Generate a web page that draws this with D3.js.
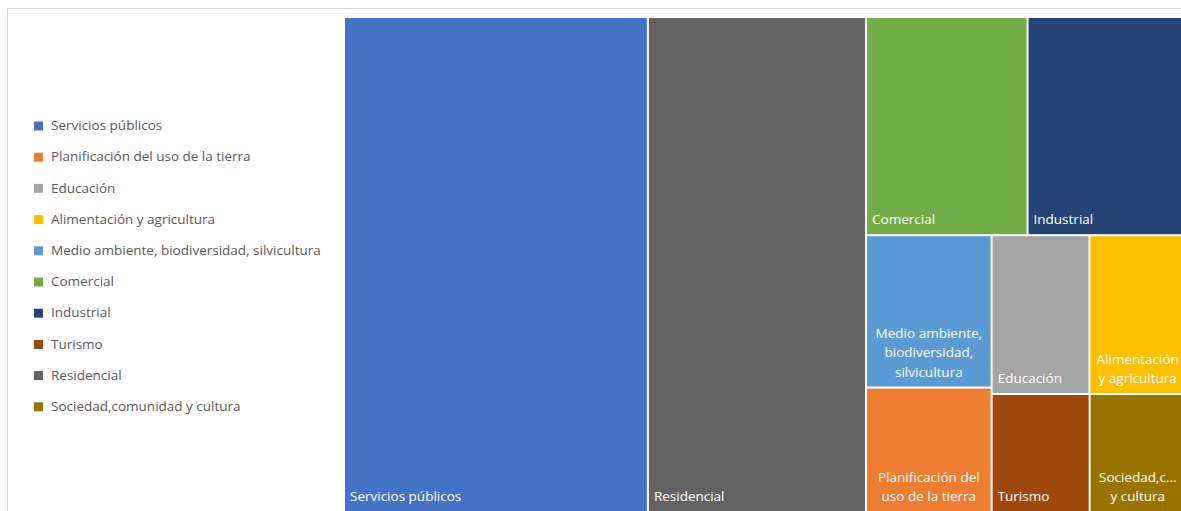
<!DOCTYPE html>
<html>
<head>
<meta charset="utf-8">
<script src="https://cdn.jsdelivr.net/npm/d3@7"></script>
<style>
  body { margin: 0; background: #fff; }
  svg { display: block; font-family: 'Open Sans', sans-serif; }
</style>
</head>
<body>
<div id="treemap-container"></div>
<script>
const categories = [
  'Servicios públicos',
  'Planificación del uso de la tierra',
  'Educación',
  'Alimentación y agricultura',
  'Medio ambiente, biodiversidad, silvicultura',
  'Comercial',
  'Industrial',
  'Turismo',
  'Residencial',
  'Sociedad,comunidad y cultura'
]
const values = [79.4, 8.25, 8.2, 8.1, 10.1, 18.6, 18.25, 6.1, 57.0, 6.0]
const colors = ['#4472C4', '#ED7D31', '#A5A5A5', '#FFC000', '#5B9BD5', '#70AD47', '#264478', '#9E480E', '#636363', '#997300']
// labels as wrapped inside the boxes
const labelLines = [
  ['Servicios públicos'],
  ['Planificación del', 'uso de la tierra'],
  ['Educación'],
  ['Alimentación', 'y agricultura'],
  ['Medio ambiente,', 'biodiversidad,', 'silvicultura'],
  ['Comercial'],
  ['Industrial'],
  ['Turismo'],
  ['Residencial'],
  ['Sociedad,c…', 'y cultura']
]

const WIDTH = 1181
const HEIGHT = 511
const FONT_SIZE = 13.5
const LINE_HEIGHT = 19.5
const LEGEND_TEXT_COLOR = '#595959'
const FRAME_COLOR = '#d9d9d9'

generateTreemap()

function generateTreemap () {
  var svg = d3.select('#treemap-container').append('svg')
    .attr('width', WIDTH)
    .attr('height', HEIGHT)

  // Chart frame, right and bottom sides are outside the picture
  svg.append('path')
    .attr('d', 'M7.5,' + HEIGHT + 'V8.5H' + WIDTH)
    .attr('fill', 'none')
    .attr('stroke', FRAME_COLOR)
    .attr('stroke-width', 1)

  // ===================== TREEMAP =====================
  var margin = {top: 18, left: 345}
  var tmWidth = 840 // runs a little past the right edge
  var tmHeight = 493

  var root = d3.hierarchy({children: categories.map((name, i) => ({name: name, value: values[i], index: i}))})
    .sum(d => d.value || 0)
    .sort((a, b) => b.value - a.value)

  d3.treemap()
    .tile(d3.treemapSquarify.ratio(1))
    .size([tmWidth, tmHeight])
    .paddingInner(2)(root)

  var g = svg.append('g')
    .attr('transform', 'translate(' + margin.left + ',' + margin.top + ')')

  var cells = g.selectAll('g.cell')
    .data(root.leaves())
    .join('g')
    .attr('class', 'cell')

  cells.append('rect')
    .attr('x', d => d.x0)
    .attr('y', d => d.y0)
    .attr('width', d => d.x1 - d.x0)
    .attr('height', d => d.y1 - d.y0)
    .attr('fill', d => colors[d.data.index])

  cells.each(function (d) {
    var lines = labelLines[d.data.index]
    var multi = lines.length > 1
    var text = d3.select(this).append('text')
      .attr('fill', '#fff')
      .attr('font-size', FONT_SIZE)
      .attr('text-anchor', multi ? 'middle' : 'start')
    lines.forEach((line, j) => {
      text.append('tspan')
        .attr('x', multi ? (d.x0 + d.x1) / 2 : d.x0 + 5)
        .attr('y', d.y1 - 10 - (lines.length - 1 - j) * LINE_HEIGHT)
        .text(line)
    })
  })

  // ===================== LEGEND =====================
  var legend = svg.append('g')
    .attr('id', 'legend')
  for (let i = 0; i < categories.length; i++) {
    const cy = 125.5 + i * 31.2
    legend.append('rect')
      .attr('x', 34)
      .attr('y', cy - 4)
      .attr('width', 9)
      .attr('height', 9)
      .attr('fill', colors[i])
    legend.append('text')
      .attr('x', 51)
      .attr('y', cy)
      .attr('dy', '0.35em')
      .attr('fill', LEGEND_TEXT_COLOR)
      .attr('font-size', FONT_SIZE)
      .text(categories[i])
  }
}
</script>
</body>
</html>
